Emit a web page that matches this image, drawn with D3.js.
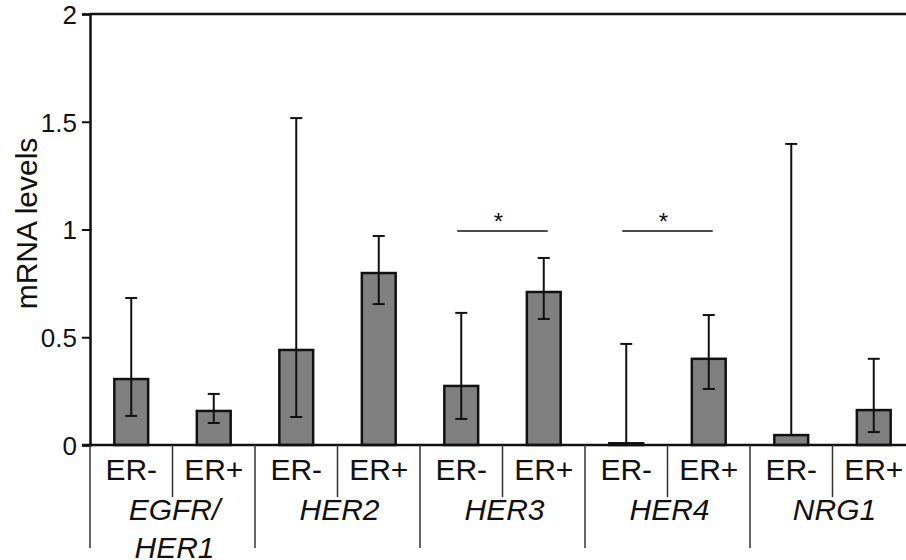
<!DOCTYPE html>
<html>
<head>
<meta charset="utf-8">
<script src="https://cdn.jsdelivr.net/npm/d3@7"></script>
<style>
  body { margin: 0; background: #fff; }
  text { font-family: Arial, "Liberation Sans", sans-serif; fill: #111; }
</style>
</head>
<body>
<div id="chart"></div>
<script>
// genes and receptor status
let genes = ["EGFR/HER1", "HER2", "HER3", "HER4", "NRG1"];
let geneLines = [["EGFR/", "HER1"], ["HER2"], ["HER3"], ["HER4"], ["NRG1"]];
let status = ["ER-", "ER+"];

// mean mRNA levels
let erNeg = [0.306, 0.441, 0.274, 0.008, 0.046];
let erPos = [0.158, 0.798, 0.710, 0.400, 0.162];

// error bar ends (null = hidden under the bar)
let erNegHi = [0.682, 1.517, 0.613, 0.469, 1.397];
let erNegLo = [0.135, 0.130, 0.121, null, null];
let erPosHi = [0.237, 0.970, 0.868, 0.603, 0.400];
let erPosLo = [0.102, 0.654, 0.585, 0.260, 0.060];

// significant comparisons (gene index, height)
let sigGenes = [2, 3];
let sigLevel = [0.993, 0.993];

let yTicks = [0, 0.5, 1, 1.5, 2];

let margin = { top: 14, left: 90 },
    width = 825,
    height = 431;

let svg = d3.select("#chart")
    .append("svg")
    .attr("width", 906)
    .attr("height", 560)
    .append("g")
    .attr("transform", "translate(" + margin.left + "," + margin.top + ")");

let data = [];
genes.forEach(function (g, i) {
    data.push({ key: g + status[0], gene: i, mean: erNeg[i], hi: erNegHi[i], lo: erNegLo[i] });
    data.push({ key: g + status[1], gene: i, mean: erPos[i], hi: erPosHi[i], lo: erPosLo[i] });
});

let x = d3.scaleBand()
    .domain(data.map(function (d) { return d.key }))
    .range([0, width])
    .paddingInner(0.59)
    .paddingOuter(0.295);

let step = x.step();

let y = d3.scaleLinear()
    .domain([0, 2])
    .range([height, 0]);

// frame top line
svg.append("line")
    .attr("x1", 0).attr("x2", width)
    .attr("y1", 0).attr("y2", 0)
    .attr("stroke", "#111").attr("stroke-width", 2.5);

// y axis
let yAxis = svg.append("g")
    .call(d3.axisLeft(y).tickValues(yTicks).tickSize(8).tickPadding(5)
        .tickFormat(function (d) { return String(d) }));
yAxis.select(".domain").attr("stroke", "#111").attr("stroke-width", 2.5);
yAxis.selectAll(".tick line").attr("stroke", "#111").attr("stroke-width", 2);
yAxis.selectAll("text")
    .style("font-size", "26px")
    .attr("dy", "0.36em")
    .style("fill", "#111");

svg.append("text")
    .attr("transform", "translate(-53," + (height / 2 - 6) + ")rotate(-90)")
    .attr("text-anchor", "middle")
    .style("font-size", "30px")
    .text("mRNA levels");

// bars
svg.selectAll("rect.bar")
    .data(data)
    .enter()
    .append("rect")
    .attr("class", "bar")
    .attr("x", function (d) { return x(d.key) })
    .attr("y", function (d) { return y(d.mean) })
    .attr("width", x.bandwidth())
    .attr("height", function (d) { return y(0) - y(d.mean) })
    .attr("fill", "#808080")
    .attr("stroke", "#111")
    .attr("stroke-width", 2.5);

// error bars
let cx = function (d) { return x(d.key) + x.bandwidth() / 2 };
let err = svg.append("g").attr("stroke", "#111").attr("stroke-width", 2);

err.selectAll("line.v")
    .data(data)
    .enter()
    .append("line")
    .attr("x1", cx).attr("x2", cx)
    .attr("y1", function (d) { return y(d.lo == null ? d.mean : d.lo) })
    .attr("y2", function (d) { return y(d.hi) });

err.selectAll("line.hi")
    .data(data)
    .enter()
    .append("line")
    .attr("x1", function (d) { return cx(d) - 6 })
    .attr("x2", function (d) { return cx(d) + 6 })
    .attr("y1", function (d) { return y(d.hi) })
    .attr("y2", function (d) { return y(d.hi) });

err.selectAll("line.lo")
    .data(data.filter(function (d) { return d.lo != null }))
    .enter()
    .append("line")
    .attr("x1", function (d) { return cx(d) - 6 })
    .attr("x2", function (d) { return cx(d) + 6 })
    .attr("y1", function (d) { return y(d.lo) })
    .attr("y2", function (d) { return y(d.lo) });

// x axis line
svg.append("line")
    .attr("x1", -8).attr("x2", width)
    .attr("y1", y(0)).attr("y2", y(0))
    .attr("stroke", "#111").attr("stroke-width", 2.5);

// significance markers
sigGenes.forEach(function (g, i) {
    let a = x(genes[g] + status[0]) + x.bandwidth() / 2 - 4;
    let b = x(genes[g] + status[1]) + x.bandwidth() / 2 + 4;
    svg.append("line")
        .attr("x1", a).attr("x2", b)
        .attr("y1", y(sigLevel[i])).attr("y2", y(sigLevel[i]))
        .attr("stroke", "#111").attr("stroke-width", 1.6);
    svg.append("text")
        .attr("x", (a + b) / 2 - 4)
        .attr("y", y(sigLevel[i]) - 1)
        .attr("text-anchor", "middle")
        .style("font-size", "24px")
        .text("*");
});

// category labels and separators
let base = y(0);
svg.selectAll("text.er")
    .data(data)
    .enter()
    .append("text")
    .attr("x", cx)
    .attr("y", base + 35)
    .attr("text-anchor", "middle")
    .style("font-size", "30px")
    .text(function (d, i) { return status[i % 2] });

genes.forEach(function (g, i) {
    let left = x(g + status[0]) - x.step() * x.paddingInner() / 2;
    let mid = left + step;
    svg.append("line")
        .attr("x1", left).attr("x2", left)
        .attr("y1", base).attr("y2", base + 103)
        .attr("stroke", "#333").attr("stroke-width", 1.5);
    svg.append("line")
        .attr("x1", mid).attr("x2", mid)
        .attr("y1", base).attr("y2", base + 52)
        .attr("stroke", "#333").attr("stroke-width", 1.5);
    let t = svg.append("text")
        .attr("x", mid + 2)
        .attr("y", base + 75)
        .attr("text-anchor", "middle")
        .style("font-size", "30px")
        .style("font-style", "italic");
    geneLines[i].forEach(function (s, j) {
        t.append("tspan")
            .attr("x", mid + 2)
            .attr("dy", j == 0 ? 0 : 38)
            .text(s);
    });
});
</script>
</body>
</html>
